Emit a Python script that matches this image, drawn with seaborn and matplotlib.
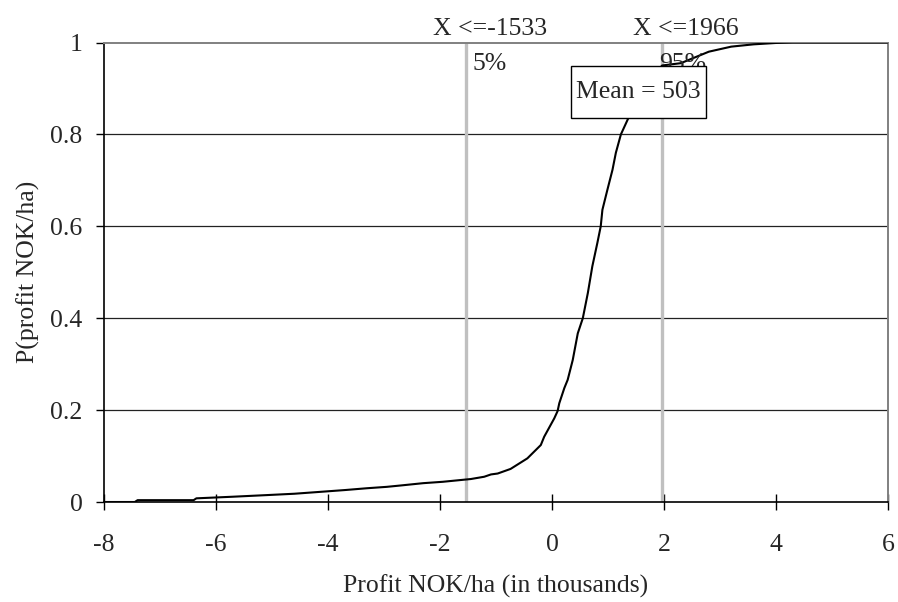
import matplotlib
matplotlib.use("Agg")
import matplotlib.pyplot as plt
import matplotlib.patches as mpatches
import numpy as np
import pandas as pd
import seaborn as sns

# Cumulative distribution of simulated profit (thousand NOK per ha)
profit = [-8.0, -7.45, -7.4, -6.4, -6.35, -5.7, -5.1, -4.6, -4.15, -3.7, -3.3,
          -2.95, -2.7, -2.3, -1.95, -1.45, -1.21, -1.09, -0.97, -0.74, -0.44,
          -0.20, -0.14, 0.04, 0.10, 0.13, 0.22, 0.28, 0.37, 0.46, 0.55, 0.64,
          0.72, 0.81, 0.87, 0.90, 0.99, 1.08, 1.14, 1.23, 1.35, 1.50, 1.70,
          1.966, 2.30, 2.50, 2.80, 3.20, 3.60, 4.00, 4.30, 6.00]
cum_prob = [0.0, 0.0, 0.004, 0.004, 0.008, 0.0115, 0.015, 0.018, 0.022, 0.026,
            0.030, 0.033, 0.036, 0.041, 0.044, 0.050, 0.055, 0.060, 0.062,
            0.072, 0.095, 0.124, 0.142, 0.182, 0.198, 0.215, 0.248, 0.266,
            0.309, 0.367, 0.40, 0.455, 0.513, 0.564, 0.60, 0.636, 0.68, 0.723,
            0.76, 0.80, 0.832, 0.87, 0.91, 0.95, 0.955, 0.965, 0.98, 0.991,
            0.996, 0.999, 1.0, 1.0]

# Percentile markers (value in NOK/ha) and the mean
pct_values = [-1533, 1966]
pct_labels = ["5%", "95%"]
mean_value = 503

x_ticks = [-8, -6, -4, -2, 0, 2, 4, 6]
y_ticks = [0, 0.2, 0.4, 0.6, 0.8, 1]
y_ticklabels = ["0", "0.2", "0.4", "0.6", "0.8", "1"]

FS = 18.5

sns.set_theme(style="white")
plt.rcParams["font.family"] = ["Liberation Serif", "DejaVu Serif"]
plt.rcParams["font.size"] = FS

df = pd.DataFrame({"profit": profit, "p": cum_prob})

fig = plt.figure(figsize=(8.98, 6.02), dpi=100)
ax = fig.add_axes([0.1158, 0.1661, 0.8731, 0.7633])

ax.set_xlim(-8, 6)
ax.set_ylim(0, 1)

# horizontal gridlines
for yv in y_ticks[1:-1]:
    ax.axhline(yv, color="#222222", lw=0.9, zorder=1)

# percentile lines
for v in pct_values:
    ax.axvline(v / 1000, color="#c0c0c0", lw=2.4, zorder=2)

sns.lineplot(data=df, x="profit", y="p", color="black", lw=1.5,
             estimator=None, sort=False, ax=ax, zorder=3)

ax.set_xticks(x_ticks)
ax.set_xticklabels([str(t) for t in x_ticks])
ax.set_yticks(y_ticks)
ax.set_yticklabels(y_ticklabels)
ax.tick_params(axis="x", direction="inout", length=11.5, width=1,
               color="black", pad=17, labelsize=FS)
ax.tick_params(axis="y", direction="out", length=5.5, width=1,
               color="black", pad=10, labelsize=FS)
ax.tick_params(bottom=True, left=True)

for side in ["left", "bottom"]:
    ax.spines[side].set_color("black")
    ax.spines[side].set_linewidth(1.2)
for side in ["top", "right"]:
    ax.spines[side].set_color("#808080")
    ax.spines[side].set_linewidth(1.4)

ax.set_xlabel("Profit NOK/ha (in thousands)", fontsize=FS, labelpad=14)
ax.set_ylabel("P(profit NOK/ha)", fontsize=FS, labelpad=7)

# percentile captions above the plot and inside near the top
for v, lab in zip(pct_values, pct_labels):
    xv = v / 1000
    ax.annotate(f"X <={v}", xy=(xv, 1), xycoords=("data", "axes fraction"),
                xytext=(17, 5.5), textcoords="offset points",
                ha="center", va="baseline", fontsize=FS, annotation_clip=False)
    dx = 4.5 if lab == "5%" else -2.5
    ax.annotate(lab, xy=(xv, 1), xycoords=("data", "axes fraction"),
                xytext=(dx, -20), textcoords="offset points",
                ha="left", va="baseline", fontsize=FS, zorder=4)

# mean box
box = mpatches.Rectangle((0.5957, 0.8357), 0.1722, 0.1132,
                         transform=ax.transAxes, facecolor="white",
                         edgecolor="black", lw=1.0, zorder=5)
ax.add_patch(box)
ax.text(0.6818, 0.8922, f"Mean = {mean_value}", transform=ax.transAxes,
        ha="center", va="center", fontsize=FS, zorder=6)

fig.savefig("out.png", dpi=100)
